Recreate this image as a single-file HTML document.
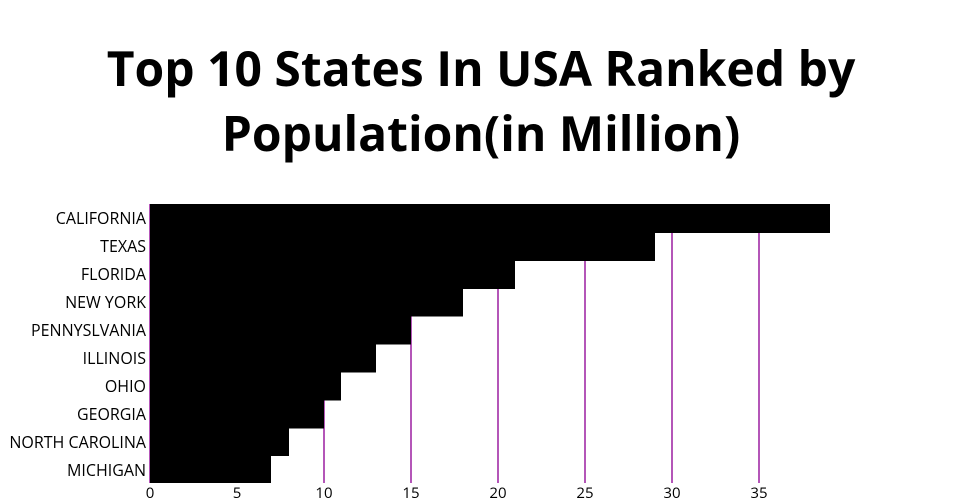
<!DOCTYPE html>
<html><head><style>
body{margin:0;background:#fff;width:960px;height:500px;overflow:hidden}
svg{display:block}
</style></head><body>
<svg width="960" height="500" xmlns="http://www.w3.org/2000/svg" font-family="'Open Sans','Liberation Sans',sans-serif">
<text x="481" y="86" text-anchor="middle" font-size="48" font-weight="bold">Top 10 States In USA Ranked by</text>
<text x="481" y="151" text-anchor="middle" font-size="48" font-weight="bold">Population(in Million)</text>
<g stroke="#9b1fa0" stroke-width="1.5">
<line x1="324" y1="204" x2="324" y2="483"/>
<line x1="411" y1="204" x2="411" y2="483"/>
<line x1="498" y1="204" x2="498" y2="483"/>
<line x1="585" y1="204" x2="585" y2="483"/>
<line x1="672" y1="204" x2="672" y2="483"/>
<line x1="759" y1="204" x2="759" y2="483"/>
<line x1="150" y1="204" x2="150" y2="483"/>
</g>
<g fill="#000" shape-rendering="crispEdges">
<rect x="150" y="204" width="680" height="29"/>
<rect x="150" y="231.9" width="505" height="29"/>
<rect x="150" y="259.8" width="365" height="29"/>
<rect x="150" y="287.7" width="313" height="29"/>
<rect x="150" y="315.6" width="261" height="29"/>
<rect x="150" y="343.5" width="226" height="29"/>
<rect x="150" y="371.4" width="191" height="29"/>
<rect x="150" y="399.3" width="174" height="29"/>
<rect x="150" y="427.2" width="139" height="29"/>
<rect x="150" y="455.1" width="121" height="28"/>
</g>
<g font-size="16" text-anchor="end" fill="#000">
<text x="146" y="224">CALIFORNIA</text>
<text x="146" y="252">TEXAS</text>
<text x="146" y="280">FLORIDA</text>
<text x="146" y="308">NEW YORK</text>
<text x="146" y="336">PENNYSLVANIA</text>
<text x="146" y="364">ILLINOIS</text>
<text x="146" y="392">OHIO</text>
<text x="146" y="420">GEORGIA</text>
<text x="146" y="448">NORTH CAROLINA</text>
<text x="146" y="476">MICHIGAN</text>
</g>
<g font-size="15" text-anchor="middle" fill="#000">
<text x="150" y="498">0</text>
<text x="237" y="498">5</text>
<text x="324" y="498">10</text>
<text x="411" y="498">15</text>
<text x="498" y="498">20</text>
<text x="585" y="498">25</text>
<text x="672" y="498">30</text>
<text x="759" y="498">35</text>
</g>
</svg>
</body></html>
